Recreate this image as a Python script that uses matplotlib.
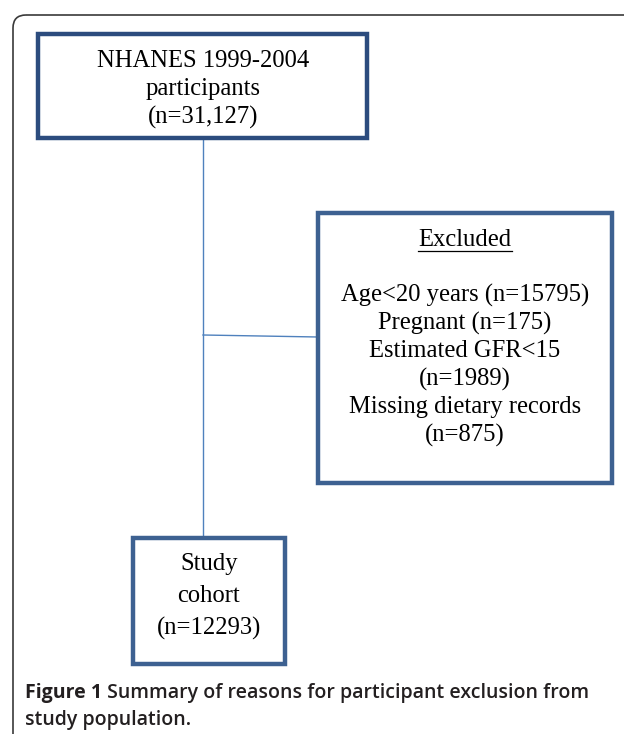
import matplotlib
matplotlib.use("Agg")
import matplotlib.pyplot as plt
from matplotlib.patches import Rectangle, FancyBboxPatch

# ---- content ----
top_lines = ["NHANES 1999-2004", "participants", "(n=31,127)"]
excl_title = "Excluded"
excl_lines = ["Age<20 years (n=15795)", "Pregnant (n=175)", "Estimated GFR<15",
              "(n=1989)", "Missing dietary records", "(n=875)"]
cohort_lines = ["Study", "cohort", "(n=12293)"]
caption_bold = "Figure 1"
caption_rest_1 = " Summary of reasons for participant exclusion from"
caption_line_2 = "study population."

W, H = 624, 734
fig = plt.figure(figsize=(W / 100, H / 100), dpi=100)
ax = fig.add_axes([0, 0, 1, 1])
ax.set_xlim(0, W)
ax.set_ylim(H, 0)
ax.axis("off")

serif = "Liberation Serif"
fs = 17.7
box_col1 = "#2c4c7e"
box_col2 = "#3d6191"
conn_col = "#4f81bd"

# outer rounded frame
frame = FancyBboxPatch((13, 15), 700, 800, boxstyle="round,pad=0,rounding_size=13",
                       fill=False, ec="#3a3a3a", lw=1.2)
ax.add_patch(frame)

# connectors
ax.plot([203, 203], [139, 538], color=conn_col, lw=1.0)
ax.plot([203, 318], [335, 337], color=conn_col, lw=1.0)

# boxes
ax.add_patch(Rectangle((38, 34), 329, 104, fill=False, ec=box_col1, lw=3.2, zorder=3))
ax.add_patch(Rectangle((318, 213), 294, 270, fill=False, ec=box_col2, lw=3.2, zorder=3))
ax.add_patch(Rectangle((133, 538), 152, 126, fill=False, ec=box_col2, lw=3.2, zorder=3))

# top box text
for i, t in enumerate(top_lines):
    ax.text(203, 61 + i * 28, t, ha="center", va="center", family=serif, fontsize=fs)

# excluded text
ax.text(465, 240, excl_title, ha="center", va="center", family=serif, fontsize=fs)
ax.plot([418, 512], [251, 251], color="black", lw=0.9)
for i, t in enumerate(excl_lines):
    ax.text(465, 295 + i * 28, t, ha="center", va="center", family=serif, fontsize=fs)

# cohort text
for i, t in enumerate(cohort_lines):
    ax.text(209, 564 + i * 32, t, ha="center", va="center", family=serif, fontsize=fs)

# caption
cap_fs = 14.0
t1 = ax.text(25, 693, caption_bold, ha="left", va="center", family="Open Sans",
             fontsize=cap_fs, fontweight="bold", color="#231f20")
fig.canvas.draw()
bb = t1.get_window_extent()
x_end = ax.transData.inverted().transform((bb.x1, bb.y0))[0]
ax.text(x_end, 693, caption_rest_1, ha="left", va="center", family="Open Sans",
        fontsize=cap_fs, fontweight="semibold", color="#231f20")
ax.text(25, 720, caption_line_2, ha="left", va="center", family="Open Sans",
        fontsize=cap_fs, fontweight="semibold", color="#231f20")

fig.savefig("out.png", dpi=100)
